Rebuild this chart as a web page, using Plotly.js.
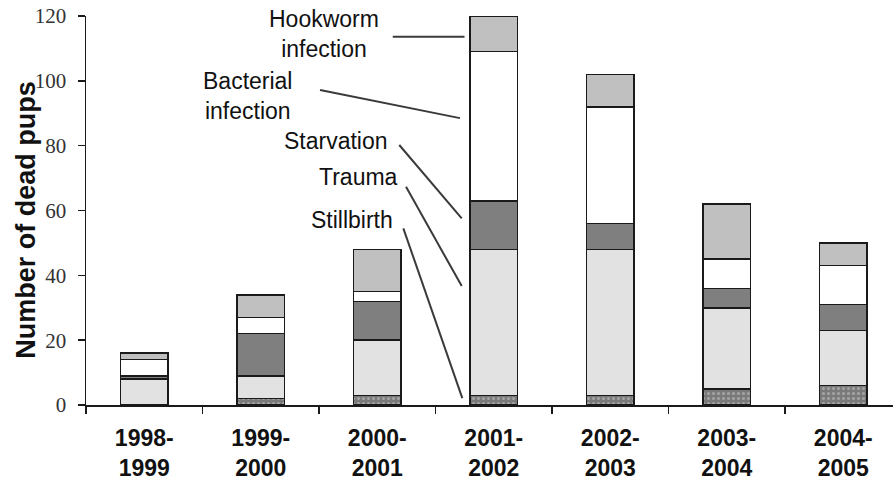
<!DOCTYPE html>
<html>
<head>
<meta charset="utf-8">
<script src="https://cdn.plot.ly/plotly-3.0.1.min.js"></script>
<style>html,body{margin:0;padding:0;background:#fff;}#chart{width:893px;height:483px;}</style>
</head>
<body>
<div id="chart"></div>
<script>
// Data
var seasons = ["1998-<br>1999", "1999-<br>2000", "2000-<br>2001", "2001-<br>2002", "2002-<br>2003", "2003-<br>2004", "2004-<br>2005"];
var stillbirth = [0, 2, 3, 3, 3, 5, 6];
var trauma     = [8, 7, 17, 45, 45, 25, 17];
var starvation = [1, 13, 12, 15, 8, 6, 8];
var bacterial  = [5, 5, 3, 46, 36, 9, 12];
var hookworm   = [2, 7, 13, 11, 10, 17, 7];
var yTicks = [0, 20, 40, 60, 80, 100, 120];
var yTitle = "Number of dead pups";

// Callout labels: [text, label x, label y, line start x, line start y, line end x, line end y] (data units)
var callouts = [
  ["Hookworm<br>infection", 1.543, 114.4, 2.133, 113.6, 2.749, 113.6],
  ["Bacterial<br>infection", 0.886, 95.3, 1.509, 97.2, 2.710, 88.5],
  ["Starvation", 1.646, 81.4, 2.189, 80.2, 2.725, 57.6],
  ["Trauma", 1.835, 70.3, 2.247, 67.3, 2.725, 36.7],
  ["Stillbirth", 1.779, 57.1, 2.224, 54.5, 2.730, 2.1]
];

var outline = {color: "#1a1a1a", width: 1.5};
var barW = 0.41;
function mk(name, vals, color, pattern) {
  var m = {color: color, line: outline};
  if (pattern) m.pattern = pattern;
  return {type: "bar", name: name, x: seasons, y: vals, width: barW, marker: m, hoverinfo: "skip"};
}
var traces = [
  mk("Stillbirth", stillbirth, "#7a7a7a", {shape: ".", fillmode: "replace", bgcolor: "#7a7a7a", fgcolor: "#a4a4a4", size: 5, solidity: 0.3}),
  mk("Trauma", trauma, "#e2e2e2"),
  mk("Starvation", starvation, "#7f7f7f"),
  mk("Bacterial infection", bacterial, "#ffffff"),
  mk("Hookworm infection", hookworm, "#c0c0c0")
];

var annotations = callouts.map(function (c) {
  return {xref: "x", yref: "y", x: c[1], y: c[2], text: c[0], showarrow: false,
          xanchor: "center", yanchor: "middle", align: "center",
          font: {family: "Liberation Sans, Arial, sans-serif", size: 23, color: "#111"}};
});
annotations.push({xref: "paper", yref: "paper", x: -0.0745, y: 0.476, text: yTitle, showarrow: false,
  textangle: -90, xanchor: "center", yanchor: "middle",
  font: {family: "Liberation Sans, Arial, sans-serif", size: 27, color: "#111", weight: "bold"}});

var shapes = callouts.map(function (c) {
  return {type: "line", xref: "x", yref: "y", x0: c[3], y0: c[4], x1: c[5], y1: c[6],
          line: {color: "#3a3a3a", width: 2}};
});

var layout = {
  width: 893, height: 483,
  margin: {l: 86, r: 0, t: 16, b: 78},
  barmode: "stack",
  showlegend: false,
  hovermode: false,
  paper_bgcolor: "#fff", plot_bgcolor: "#fff",
  xaxis: {
    type: "category",
    range: [-0.5, 6.427],
    showline: true, linecolor: "#1a1a1a", linewidth: 1.5,
    ticks: "outside", tickson: "boundaries", ticklen: 7, tickcolor: "#1a1a1a", tickwidth: 1.5,
    ticklabelstandoff: 12,
    showgrid: false, zeroline: false,
    tickfont: {family: "Liberation Sans, Arial, sans-serif", size: 23, color: "#111", weight: "bold"},
    fixedrange: true
  },
  yaxis: {
    range: [0, 120],
    tickvals: yTicks,
    ticktext: yTicks.map(String),
    showline: true, linecolor: "#1a1a1a", linewidth: 1.5,
    ticks: "outside", ticklen: 7, tickcolor: "#1a1a1a", tickwidth: 1.5,
    ticklabelstandoff: 7,
    showgrid: false, zeroline: false,
    tickfont: {family: "Liberation Serif, Times New Roman, serif", size: 21, color: "#333"},
    fixedrange: true
  },
  annotations: annotations,
  shapes: shapes
};

Plotly.newPlot("chart", traces, layout, {displayModeBar: false, staticPlot: true});
</script>
</body>
</html>
